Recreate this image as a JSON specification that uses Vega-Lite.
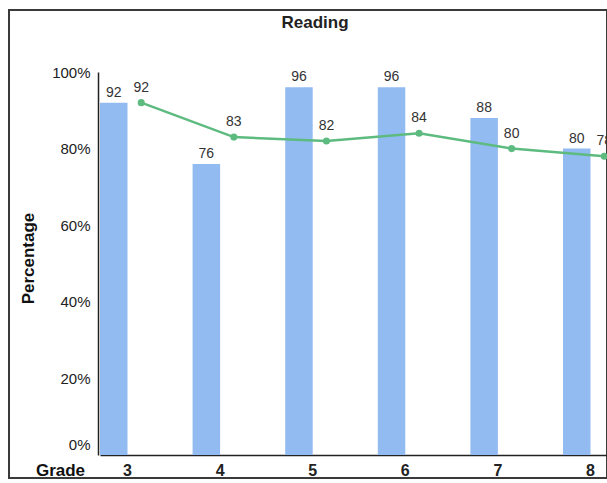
{
  "$schema": "https://vega.github.io/schema/vega-lite/v6.json",
  "autosize": {"type": "none"},
  "padding": {"left": 9, "top": 10, "right": 0, "bottom": 5},
  "width": 598,
  "height": 468,
  "background": "white",
  "config": {
    "font": "Liberation Sans",
    "view": {"stroke": "#3a3a3a", "strokeWidth": 2}
  },
  "title": {
    "text": "Reading",
    "fontSize": 17,
    "fontWeight": "bold",
    "color": "#222222",
    "anchor": "middle",
    "offset": -22,
    "dx": 7
  },
  "data": {
    "values": [
      {"grade": "3", "series": "bar", "value": 92},
      {"grade": "4", "series": "bar", "value": 76},
      {"grade": "5", "series": "bar", "value": 96},
      {"grade": "6", "series": "bar", "value": 96},
      {"grade": "7", "series": "bar", "value": 88},
      {"grade": "8", "series": "bar", "value": 80},
      {"grade": "3", "series": "line", "value": 92},
      {"grade": "4", "series": "line", "value": 83},
      {"grade": "5", "series": "line", "value": 82},
      {"grade": "6", "series": "line", "value": 84},
      {"grade": "7", "series": "line", "value": 80},
      {"grade": "8", "series": "line", "value": 78}
    ]
  },
  "encoding": {
    "x": {
      "field": "grade",
      "type": "nominal",
      "sort": ["3", "4", "5", "6", "7", "8"],
      "scale": {"range": [91, 609], "paddingInner": 0.406, "paddingOuter": 0},
      "axis": {
        "title": "Grade",
        "titleFontSize": 17,
        "titleFontWeight": "bold",
        "titleColor": "#111111",
        "titleX": 51,
        "titleY": 15,
        "titleAlign": "center",
        "titleBaseline": "middle",
        "titleAngle": 0,
        "offset": -23,
        "labelAngle": 0,
        "labelFontSize": 16,
        "labelFontWeight": "bold",
        "labelColor": "#222222",
        "labelPadding": 7,
        "ticks": false,
        "domainColor": "#222222",
        "domainWidth": 1.5
      }
    },
    "xOffset": {
      "field": "series",
      "type": "nominal",
      "scale": {"domain": ["bar", "line"], "paddingInner": 0, "paddingOuter": 0}
    },
    "y": {
      "field": "value",
      "type": "quantitative",
      "scale": {"domain": [0, 100], "range": [445, 62], "nice": false},
      "axis": {
        "title": "Percentage",
        "titleFontSize": 17,
        "titleFontWeight": "bold",
        "titleColor": "#111111",
        "titleX": -70,
        "titleY": 248,
        "titleAngle": -90,
        "titleAlign": "center",
        "titleBaseline": "middle",
        "offset": -89,
        "values": [0, 20, 40, 60, 80, 100],
        "labelExpr": "datum.value + '%'",
        "labelFontSize": 15,
        "labelColor": "#222222",
        "labelPadding": 8,
        "labelOffset": {"condition": {"test": "datum.value === 0", "value": -11}, "value": 0},
        "ticks": false,
        "grid": false,
        "domainColor": "#222222",
        "domainWidth": 1.5
      }
    }
  },
  "layer": [
    {
      "transform": [{"filter": "datum.series === 'bar'"}],
      "mark": {"type": "bar", "color": "#92BBF1"}
    },
    {
      "transform": [{"filter": "datum.series === 'bar'"}],
      "mark": {"type": "text", "baseline": "bottom", "dy": -3, "fontSize": 14, "color": "#333333"},
      "encoding": {"text": {"field": "value", "type": "quantitative"}}
    },
    {
      "transform": [{"filter": "datum.series === 'line'"}],
      "mark": {"type": "line", "color": "#5DBB80", "strokeWidth": 2.5}
    },
    {
      "transform": [{"filter": "datum.series === 'line'"}],
      "mark": {"type": "point", "filled": true, "opacity": 1, "size": 50, "color": "#5DBB80"}
    },
    {
      "transform": [{"filter": "datum.series === 'line'"}],
      "mark": {"type": "text", "baseline": "bottom", "dy": -8, "fontSize": 14, "color": "#333333"},
      "encoding": {"text": {"field": "value", "type": "quantitative"}}
    }
  ]
}
